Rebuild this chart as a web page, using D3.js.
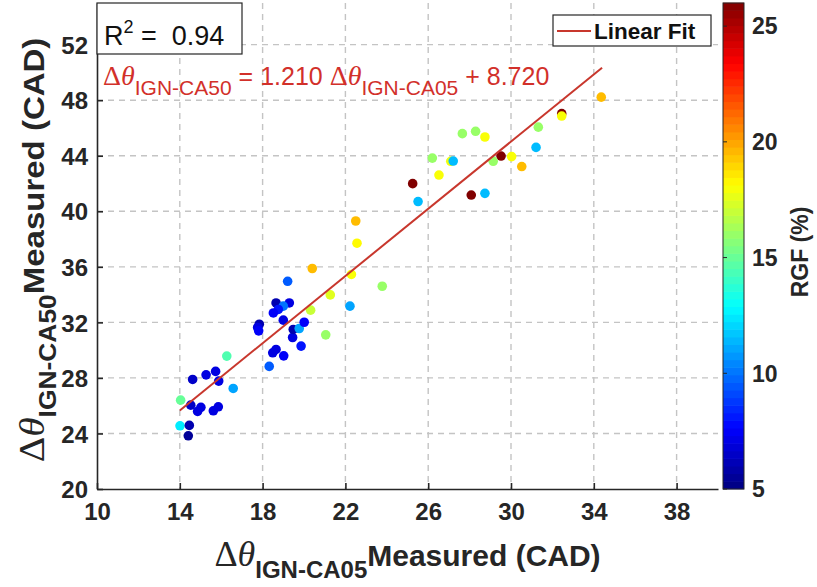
<!DOCTYPE html>
<html><head><meta charset="utf-8">
<script src="https://cdn.jsdelivr.net/npm/d3@7"></script>
<style>body{margin:0;background:#fff}svg{display:block}</style>
</head><body>
<svg id="c" width="817" height="587"></svg>
<script>
// ---- data ----
const xValues = [14.01,14.46,14.41,14.04,14.53,15.02,14.86,15.86,15.62,14.62,15.27,15.73,15.88,16.58,16.27,18.32,18.65,18.49,19.02,19.86,19.45,21.05,19.48,19.77,20.01,19.0,17.84,17.76,17.81,18.65,19.29,19.0,18.76,18.52,20.32,22.22,19.21,21.27,20.40,22.29,23.78,22.56,22.50,25.25,25.51,26.52,26.20,27.09,27.21,27.65,28.29,28.74,28.08,28.74,29.52,29.14,30.03,30.52,31.21,31.32,32.45,32.45,34.36];
const yValues = [24.55,24.58,23.83,26.40,26.04,25.88,25.59,25.92,25.63,27.89,28.22,28.47,27.77,27.24,29.57,28.83,30.05,29.81,29.59,30.29,30.91,31.10,31.49,31.56,32.01,32.16,31.87,31.63,31.39,33.40,33.40,33.17,32.93,32.68,32.88,33.17,34.96,33.98,35.88,35.45,34.60,37.70,39.30,41.99,40.70,42.61,43.83,43.60,43.62,45.59,45.76,45.35,41.17,41.29,43.98,43.60,43.94,43.22,44.60,46.06,47.03,46.86,48.22];
const rgfValues = [12.5,6,5.5,15,6.5,7,7,7,7,6.5,7,7,7,11,14.5,9.5,7,7,7.5,8,7,16,6,11,7.5,7,6,7,7.5,6,7,10,8,7.5,17,11,9.5,17.5,19.5,18,16,18.2,19.5,26,11.5,18,16,17.8,11.5,16,16,18,26,11.5,26,16,18,19.5,11.5,16,26,18,19.5];
const xTicks = [10,14,18,22,26,30,34,38];
const yTicks = [20,24,28,32,36,40,44,48,52];
const cbTicks = [5,10,15,20,25];
const fitSlope = 1.210, fitIntercept = 8.720, fitRange = [14, 34.4];
const r2Value = "0.94";

// ---- layout ----
const svg = d3.select("#c");
const L=97, R=718, T=3, B=489;
const x = d3.scaleLinear().domain([10,40]).range([L,R]);
const y = d3.scaleLinear().domain([20,55]).range([B,T]);
const cmin=5, cmax=26;
function jet(v){
  const t=(v-cmin)/(cmax-cmin);
  const c=u=>Math.max(0,Math.min(1,u));
  const r=c(1.5-Math.abs(4*t-3)), g=c(1.5-Math.abs(4*t-2)), b=c(1.5-Math.abs(4*t-1));
  return d3.rgb(r*255,g*255,b*255).toString();
}
const sans="'Liberation Sans', Arial, sans-serif";
const serif="'Liberation Serif', 'Times New Roman', serif";
const red="#d2302a";

// grid
const grid=svg.append("g").attr("stroke","#c4c4c4").attr("stroke-width",1.4).attr("stroke-dasharray","6,5");
grid.selectAll(".gx").data(xTicks.filter(d=>d>10)).enter().append("line")
  .attr("x1",d=>x(d)).attr("x2",d=>x(d)).attr("y1",T).attr("y2",B);
grid.selectAll(".gy").data(yTicks.filter(d=>d>20)).enter().append("line")
  .attr("x1",L).attr("x2",R).attr("y1",d=>y(d)).attr("y2",d=>y(d));

// axes
const xAxis=d3.axisBottom(x).tickValues(xTicks).tickSizeInner(-6).tickSizeOuter(0).tickPadding(14);
const yAxis=d3.axisLeft(y).tickValues(yTicks).tickSizeInner(-6).tickSizeOuter(0).tickPadding(9);
const gx=svg.append("g").attr("transform",`translate(0,${B})`).call(xAxis);
const gy=svg.append("g").attr("transform",`translate(${L},0)`).call(yAxis);
[gx,gy].forEach(g=>{
  g.select(".domain").attr("stroke","#262626").attr("stroke-width",1.6);
  g.selectAll(".tick line").attr("stroke","#262626").attr("stroke-width",1.6);
  g.selectAll(".tick text").attr("font-family",sans).attr("font-weight","bold").attr("font-size",24).attr("fill","#262626");
});
gx.selectAll(".tick text").attr("dy","0.71em");
gy.selectAll(".tick text").attr("dy","0.36em");

// points
svg.append("g").selectAll("circle").data(xValues.map((v,i)=>({x:v,y:yValues[i],c:rgfValues[i]})))
  .enter().append("circle").attr("cx",d=>x(d.x)).attr("cy",d=>y(d.y)).attr("r",4.8)
  .attr("fill",d=>jet(d.c));

// fit line
svg.append("line").attr("x1",x(fitRange[0])).attr("y1",y(fitSlope*fitRange[0]+fitIntercept))
  .attr("x2",x(fitRange[1])).attr("y2",y(fitSlope*fitRange[1]+fitIntercept))
  .attr("stroke","#c8372d").attr("stroke-width",2);

// R2 box
svg.append("rect").attr("x",L).attr("y",T).attr("width",145).attr("height",51)
  .attr("fill","#fff").attr("stroke","#262626").attr("stroke-width",1.2);
const r2=svg.append("text").attr("x",104).attr("y",45).attr("font-family",sans).attr("font-size",27).attr("fill","#111").attr("xml:space","preserve");
r2.append("tspan").text("R");
r2.append("tspan").attr("font-size",18).attr("dy",-12).text("2");
r2.append("tspan").attr("dy",12).text(" =  "+r2Value);

// equation
const eq=svg.append("text").attr("x",103).attr("y",85).attr("font-family",sans).attr("font-size",25).attr("fill",red);
eq.append("tspan").attr("font-family",serif).attr("font-size",28).text("Δ");
eq.append("tspan").attr("font-family",serif).attr("font-size",28).attr("font-style","italic").text("θ");
eq.append("tspan").attr("font-size",21).attr("dy",10).text("IGN-CA50");
eq.append("tspan").attr("dy",-10).text(" = "+fitSlope.toFixed(3)+" ");
eq.append("tspan").attr("font-family",serif).attr("font-size",28).text("Δ");
eq.append("tspan").attr("font-family",serif).attr("font-size",28).attr("font-style","italic").text("θ");
eq.append("tspan").attr("font-size",21).attr("dy",10).text("IGN-CA05");
eq.append("tspan").attr("dy",-10).text(" + "+fitIntercept.toFixed(3));

// legend
svg.append("rect").attr("x",553).attr("y",15).attr("width",158).attr("height",31)
  .attr("fill","#fff").attr("stroke","#262626").attr("stroke-width",1.2);
svg.append("line").attr("x1",557).attr("x2",591).attr("y1",31).attr("y2",31).attr("stroke","#c8372d").attr("stroke-width",2);
svg.append("text").attr("x",594).attr("y",39).attr("font-family",sans).attr("font-weight","bold").attr("font-size",22.5).attr("fill","#111").text("Linear Fit");

// axis labels
const xl=svg.append("text").attr("x",(L+R)/2).attr("y",566).attr("text-anchor","middle")
  .attr("font-family",sans).attr("font-weight","bold").attr("font-size",30).attr("fill","#262626");
xl.append("tspan").attr("font-family",serif).attr("font-weight","normal").attr("font-size",36).text("Δ");
xl.append("tspan").attr("font-family",serif).attr("font-weight","normal").attr("font-size",36).attr("font-style","italic").text("θ");
xl.append("tspan").attr("font-size",24).attr("dy",12).text("IGN-CA05");
xl.append("tspan").attr("dy",-12).text("Measured (CAD)");

const yl=svg.append("text").attr("transform",`translate(44,250) rotate(-90) scale(1.1,1)`).attr("text-anchor","middle")
  .attr("font-family",sans).attr("font-weight","bold").attr("font-size",30).attr("fill","#262626");
yl.append("tspan").attr("font-family",serif).attr("font-weight","normal").attr("font-size",36).text("Δ");
yl.append("tspan").attr("font-family",serif).attr("font-weight","normal").attr("font-size",36).attr("font-style","italic").text("θ");
yl.append("tspan").attr("font-size",24).attr("dy",12).text("IGN-CA50");
yl.append("tspan").attr("dy",-12).text("Measured (CAD)");

// colorbar
const cy=d3.scaleLinear().domain([cmin,cmax]).range([B,T]);
const cbX=723, cbW=21, nSteps=64;
const steps=d3.range(nSteps).map(i=>cmin+(i+0.5)*(cmax-cmin)/nSteps);
const stepH=(B-T)/nSteps;
svg.append("g").selectAll("rect").data(steps).enter().append("rect")
  .attr("x",cbX).attr("width",cbW).attr("y",d=>cy(d)-stepH/2-0.3).attr("height",stepH+0.6)
  .attr("fill",d=>jet(d));
svg.append("rect").attr("x",cbX).attr("y",T).attr("width",cbW).attr("height",B-T)
  .attr("fill","none").attr("stroke","#262626").attr("stroke-width",1);
const cg=svg.append("g");
cg.selectAll("line").data(cbTicks).enter().append("line")
  .attr("x1",cbX).attr("x2",cbX+4).attr("y1",d=>cy(d)).attr("y2",d=>cy(d)).attr("stroke","#262626");
cg.selectAll("text").data(cbTicks).enter().append("text")
  .attr("x",752).attr("y",d=>cy(d)).attr("dy","0.36em")
  .attr("font-family",sans).attr("font-weight","bold").attr("font-size",23).attr("fill","#262626").text(d=>d);
svg.append("text").attr("transform",`translate(808,252) rotate(-90)`).attr("text-anchor","middle")
  .attr("font-family",sans).attr("font-weight","bold").attr("font-size",23).attr("fill","#262626").text("RGF (%)");
</script>
</body></html>
